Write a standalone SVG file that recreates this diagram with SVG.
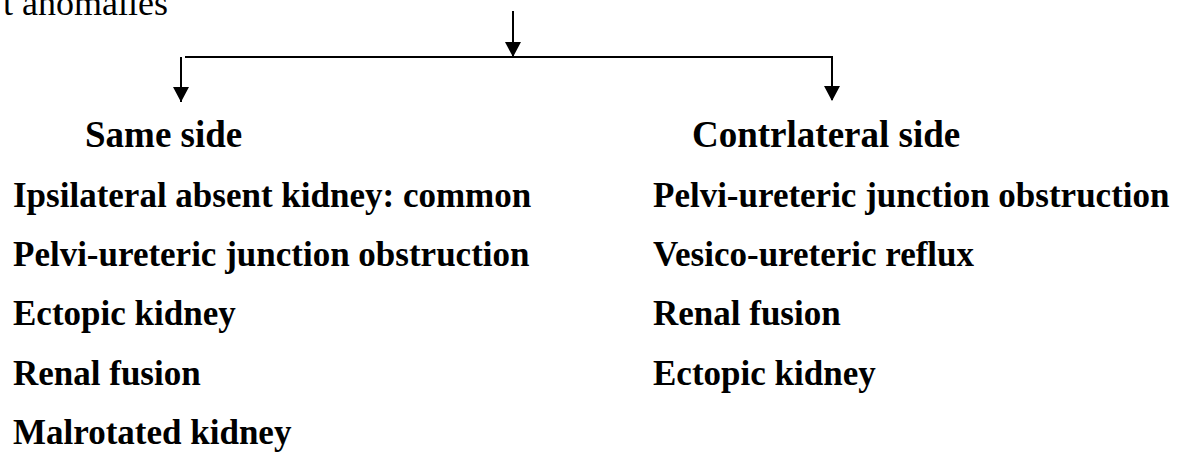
<svg xmlns="http://www.w3.org/2000/svg" width="1182" height="452" viewBox="0 0 1182 452">
<defs>
<style>
.t{font-family:"Liberation Serif","Times New Roman",serif;fill:#000}
.title{font-size:36px}
.h{font-size:37px;font-weight:bold}
.i{font-size:35px;font-weight:bold}
.c{stroke:#000;stroke-width:2;fill:none}
</style>
<marker id="ah" markerUnits="userSpaceOnUse" markerWidth="16" markerHeight="15" refX="8" refY="15" orient="auto-start-reverse" viewBox="0 0 16 15">
<path d="M0,0 L16,0 L8,15 Z" fill="#000" transform="rotate(0)"/>
</marker>
</defs>
<rect width="1182" height="452" fill="#fff"/>
<g id="title"><text class="t title" x="168" y="15" text-anchor="end">t anomalies</text></g>
<g id="connectors">
<line class="c" x1="513" y1="11" x2="513" y2="57"/>
<path d="M505,42 L521,42 L513,57 Z" fill="#000"/>
<line class="c" x1="185" y1="57" x2="831" y2="57"/>
<line class="c" x1="181" y1="57" x2="181" y2="102"/>
<path d="M173,87 L189,87 L181,102 Z" fill="#000"/>
<line class="c" x1="832" y1="56" x2="832" y2="100"/>
<path d="M824,86 L840,86 L832,101 Z" fill="#000"/>
</g>
<g id="same-side">
<text class="t h" x="85" y="147">Same side</text>
<text class="t i" x="13" y="207">Ipsilateral absent kidney: common</text>
<text class="t i" x="13" y="266">Pelvi-ureteric junction obstruction</text>
<text class="t i" x="13" y="325">Ectopic kidney</text>
<text class="t i" x="13" y="385">Renal fusion</text>
<text class="t i" x="13" y="444">Malrotated kidney</text>
</g>
<g id="contralateral-side">
<text class="t h" x="692" y="147">Contrlateral side</text>
<text class="t i" x="653" y="207">Pelvi-ureteric junction obstruction</text>
<text class="t i" x="653" y="266">Vesico-ureteric reflux</text>
<text class="t i" x="653" y="325">Renal fusion</text>
<text class="t i" x="653" y="385">Ectopic kidney</text>
</g>
</svg>
